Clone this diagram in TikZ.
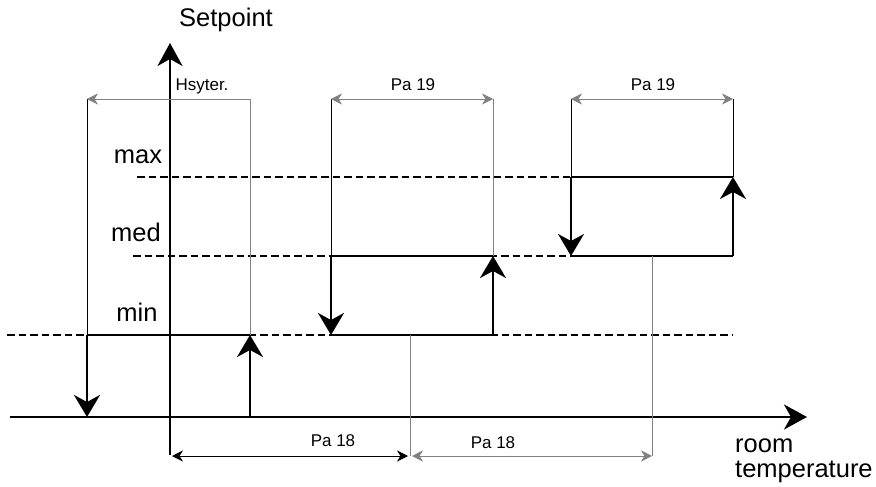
\documentclass[tikz,border=0pt]{standalone}
\usepackage{fontspec}
\setmainfont{Liberation Sans}
\usetikzlibrary{arrows.meta}

\begin{document}
\begin{tikzpicture}[
    x=1pt, y=-1pt,
    axis/.style={draw, line width=2.4pt, -{Stealth[length=23pt, width=25pt, inset=7pt]}},
    level/.style={draw, line width=2.2pt, dash pattern=on 7.5pt off 4pt},
    stepline/.style={draw, line width=2.6pt},
    steparrow/.style={stepline, -{Stealth[length=22pt, width=26pt, inset=7pt]}},
    ext/.style={draw, line width=0.9pt},
    dim/.style={ext, {Stealth[length=11pt, width=11pt, inset=3.5pt]}-{Stealth[length=11pt, width=11pt, inset=3.5pt]}},
    big/.style={font=\fontsize{25.5}{26}\selectfont},
    small/.style={font=\fontsize{17}{18}\selectfont}
]
    \useasboundingbox (0,0) rectangle (876,487);

    % Axes
    \coordinate (ybot) at (170,455);
    \coordinate (ytop) at (170,43);
    \coordinate (xleft) at (10,417);
    \coordinate (xright) at (807,417);
    \draw[axis] (ybot) -- (ytop);
    \draw[axis] (xleft) -- (xright);
    \node[big] (setpoint) at (226,20) {Setpoint};
    \node[big, anchor=base west, inner sep=0] (room) at (735,452) {room};
    \node[big, anchor=base west, inner sep=0] (temp) at (735,477) {temperature};

    % Setpoint levels
    \foreach \name/\y/\xs/\lx/\ly in {max/177/137/138/157, med/256/133/136/232, min/335/7/137/312} {
        \coordinate (\name-l) at (\xs,\y);
        \coordinate (\name-r) at (733,\y);
        \draw[level] (\name-l) -- (\name-r);
        \node[big] (\name-label) at (\lx,\ly) {\name};
    }

    % Hysteresis steps
    \foreach \i/\xl/\xr/\lo/\hi in {1/87/250/417/335, 2/331/493/335/256, 3/571/733/256/177} {
        \coordinate (s\i-tl) at (\xl,\hi);
        \coordinate (s\i-tr) at (\xr,\hi);
        \coordinate (s\i-bl) at (\xl,\lo);
        \coordinate (s\i-br) at (\xr,\lo);
        \draw[stepline] (s\i-tl) -- (s\i-tr);
        \draw[stepline] (s\i-bl) -- (s\i-br);
        \draw[steparrow] (s\i-tl) -- (s\i-bl);
        \draw[steparrow] (s\i-br) -- (s\i-tr);
    }

    % Upper dimensions
    \foreach \i/\xl/\xr in {1/87/250, 2/331/493, 3/571/733} {
        \coordinate (d\i-l) at (\xl,99);
        \coordinate (d\i-r) at (\xr,99);
    }
    \draw[ext] (d1-l) -- (s1-tl);
    \draw[ext, gray] (d1-r) -- (s1-tr);
    \draw[ext] (d2-l) -- (s2-tl);
    \draw[ext, gray] (d2-r) -- (s2-tr);
    \draw[ext] (d3-l) -- (s3-tl);
    \draw[ext] (d3-r) -- (s3-tr);
    \draw[ext, gray, -{Stealth[length=11pt, width=11pt, inset=3.5pt]}] (d1-r) -- (d1-l);
    \draw[dim, gray] (d2-l) -- (d2-r);
    \draw[dim, gray] (d3-l) -- (d3-r);
    \node[small] (hyst) at (202,86) {Hsyter.};
    \node[small] (pa19a) at (413,85) {Pa 19};
    \node[small] (pa19b) at (653,85) {Pa 19};

    % Lower dimensions
    \coordinate (e1-t) at (410,335);
    \coordinate (e1-b) at (410,456);
    \coordinate (e2-t) at (652,256);
    \coordinate (e2-b) at (652,456);
    \coordinate (e0-b) at (172,456);
    \draw[ext, gray] (e1-t) -- (e1-b);
    \draw[ext, gray] (e2-t) -- (e2-b);
    \draw[dim, shorten >=2pt] (e0-b) -- (e1-b);
    \draw[dim, gray, shorten <=2pt] (e1-b) -- (e2-b);
    \node[small] (pa18a) at (333,441) {Pa 18};
    \node[small] (pa18b) at (493,443) {Pa 18};

\end{tikzpicture}
\end{document}
